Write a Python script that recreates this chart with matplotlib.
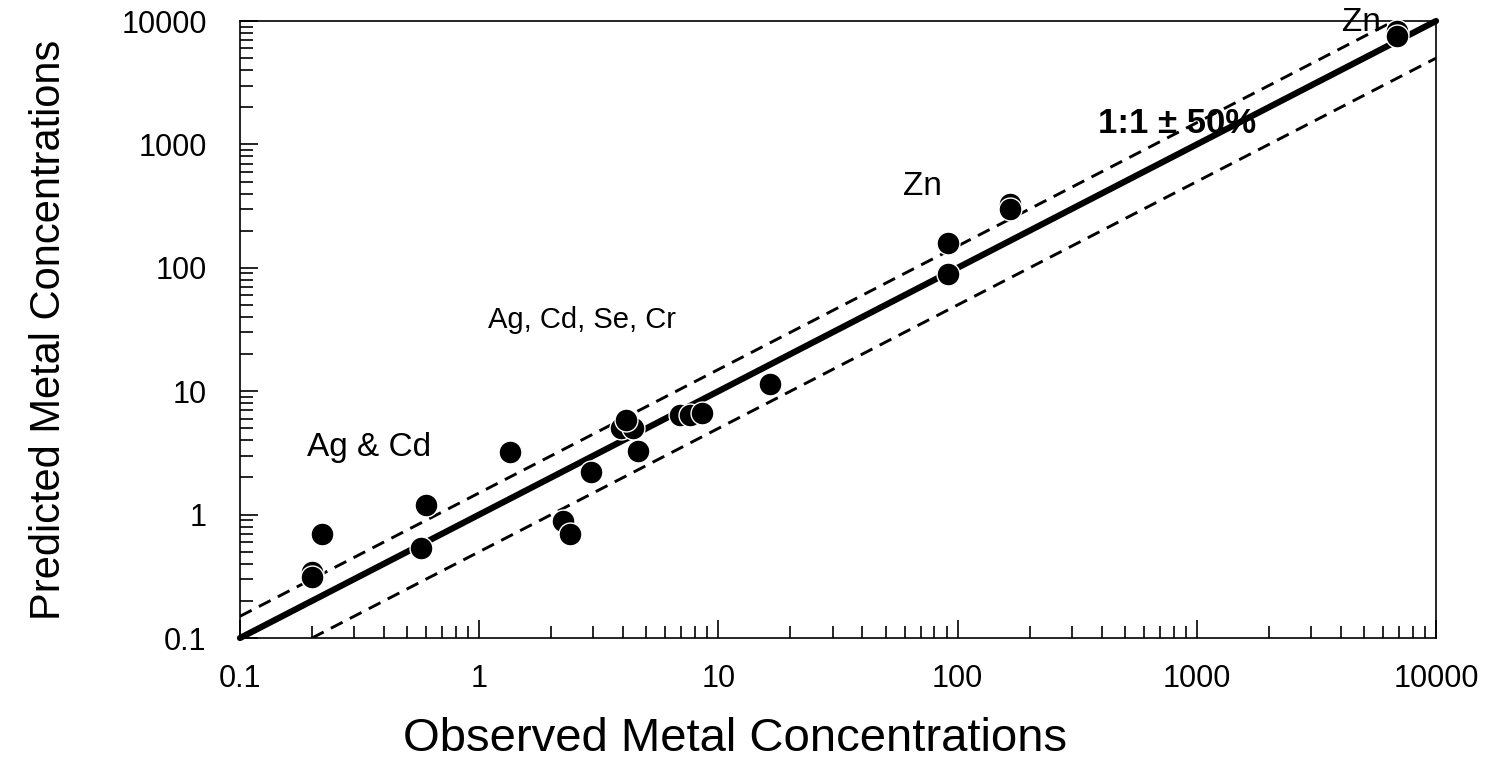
import matplotlib
matplotlib.use("Agg")
import matplotlib.pyplot as plt
import numpy as np
from matplotlib.ticker import LogLocator, NullFormatter, FixedFormatter, FixedLocator

plt.rcParams["font.family"] = ["Liberation Sans", "DejaVu Sans"]

# observed vs predicted metal concentrations
observed = [0.2, 0.2, 0.22, 0.57, 0.60, 1.35, 2.24, 2.40, 2.93,
            3.9, 4.4, 4.1, 4.6, 6.9, 7.6, 8.5, 16.4,
            91, 91, 165, 165, 6900, 6900]
predicted = [0.34, 0.31, 0.70, 0.54, 1.2, 3.2, 0.89, 0.70, 2.2,
             5.0, 5.0, 5.9, 3.3, 6.4, 6.4, 6.6, 11.4,
             89, 160, 330, 300, 8300, 7600]

ref_x = [0.1, 10000]
upper_factor = 1.5
lower_factor = 0.5

tick_vals = [0.1, 1, 10, 100, 1000, 10000]
tick_labels = ["0.1", "1", "10", "100", "1000", "10000"]

# text, x, y, size
annotations = [
    ("Ag & Cd", 0.346, 3.5, 24),
    ("Ag, Cd, Se, Cr", 2.69, 38, 21),
    ("Zn", 71, 460, 24),
    ("Zn", 4900, 9700, 24),
]

fig = plt.figure(figsize=(14.85, 7.62), dpi=100)
ax = fig.add_axes([0.1616, 0.1627, 0.8054, 0.8097])
ax.set_xscale("log")
ax.set_yscale("log")
ax.set_xlim(0.1, 10000)
ax.set_ylim(0.1, 10000)

# 1:1 line and +/-50% lines
ax.plot(ref_x, ref_x, color="black", lw=4.5, solid_capstyle="round", clip_on=False, zorder=3)
up_x = [ref_x[0], ref_x[1] / upper_factor]
ax.plot(up_x, [v * upper_factor for v in up_x], color="black", lw=2.1, ls=(0, (4.5, 2.8)), zorder=3)
lo_x = [ref_x[0] / lower_factor, ref_x[1]]
ax.plot(lo_x, [v * lower_factor for v in lo_x], color="black", lw=2.1, ls=(0, (4.5, 2.8)), zorder=3)

ax.plot(observed, predicted, "o", color="black", markersize=16.5,
        markeredgecolor="white", markeredgewidth=1.0, zorder=4, clip_on=False)

for txt, x, y, size in annotations:
    ax.text(x, y, txt, fontsize=size, ha="center", va="center", zorder=2)
ax.text(826, 1480, "1:1 \u00b1 50%", fontsize=25, fontweight="bold",
        ha="center", va="center", zorder=5)

for a in (ax.xaxis, ax.yaxis):
    a.set_major_locator(FixedLocator(tick_vals))
    a.set_major_formatter(FixedFormatter(tick_labels))
    a.set_minor_locator(LogLocator(base=10, subs=np.arange(2, 10)))
    a.set_minor_formatter(NullFormatter())

ax.tick_params(which="both", direction="in", top=False, right=False, width=1.2)
ax.tick_params(which="major", length=13)
ax.tick_params(which="minor", length=9)
ax.tick_params(axis="x", which="major", pad=19, labelsize=22)
ax.tick_params(axis="y", which="major", pad=24, labelsize=22)
for s in ax.spines.values():
    s.set_linewidth(1.2)

ax.set_xlabel("Observed Metal Concentrations", fontsize=34, va="baseline")
ax.xaxis.set_label_coords(0.414, -0.1834)
ax.set_ylabel("Predicted Metal Concentrations", fontsize=30, va="center")
ax.yaxis.set_label_coords(-0.16, 0.5)

fig.savefig("out.png", dpi=100)
